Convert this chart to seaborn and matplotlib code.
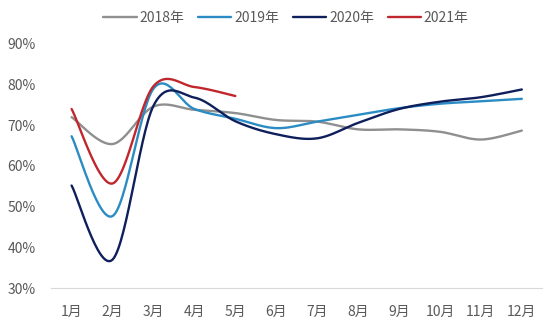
import numpy as np
import pandas as pd
import matplotlib
matplotlib.use("Agg")
import matplotlib.pyplot as plt
import seaborn as sns

months = ["1月", "2月", "3月", "4月", "5月", "6月", "7月", "8月", "9月", "10月", "11月", "12月"]
y2018 = [72.0, 65.4, 74.6, 73.8, 73.0, 71.3, 70.9, 69.0, 69.0, 68.4, 66.5, 68.7]
y2019 = [67.3, 47.7, 79.0, 74.0, 71.6, 69.3, 70.9, 72.6, 74.2, 75.3, 75.9, 76.5]
y2020 = [55.2, 37.0, 74.8, 76.8, 71.0, 67.8, 66.8, 70.6, 74.0, 75.8, 76.9, 78.8]
y2021 = [74.0, 55.7, 79.6, 79.4, 77.2]
series_names = ["2018年", "2019年", "2020年", "2021年"]
colors = ["#8f8f8f", "#2b8cc4", "#0e1f5b", "#c0272d"]
yticks = [30, 40, 50, 60, 70, 80, 90]


def smooth(xs, ys, n=30):
    # Excel-like "smoothed line" rendering through the monthly points
    xs = np.asarray(xs, float)
    ys = np.asarray(ys, float)
    px = np.concatenate([[xs[0]], xs, [xs[-1]]])
    py = np.concatenate([[ys[0]], ys, [ys[-1]]])
    outx, outy = [], []
    for i in range(1, len(px) - 2):
        p0, p1, p2, p3 = (np.array([px[j], py[j]]) for j in (i - 1, i, i + 1, i + 2))
        c1 = p1 + (p2 - p0) / 6.0
        c2 = p2 - (p3 - p1) / 6.0
        t = np.linspace(0, 1, n, endpoint=(i == len(px) - 3))
        b = ((1 - t) ** 3)[:, None] * p1 + (3 * (1 - t) ** 2 * t)[:, None] * c1 \
            + (3 * (1 - t) * t ** 2)[:, None] * c2 + (t ** 3)[:, None] * p2
        outx.extend(b[:, 0])
        outy.extend(b[:, 1])
    return outx, outy


frames = []
for name, vals in zip(series_names, [y2018, y2019, y2020, y2021]):
    sx, sy = smooth(np.arange(1, len(vals) + 1), vals)
    frames.append(pd.DataFrame({"x": sx, "y": sy, "series": name}))
df = pd.concat(frames, ignore_index=True)

sns.set_theme(style="white")
plt.rcParams["font.family"] = ["Noto Sans CJK SC", "DejaVu Sans"]

fig = plt.figure(figsize=(5.5, 3.3), dpi=100)
ax = fig.add_axes([0.093, 0.127, 0.893, 0.74])

sns.lineplot(data=df, x="x", y="y", hue="series", palette=dict(zip(series_names, colors)),
             hue_order=series_names, sort=False, estimator=None, units="series",
             linewidth=1.7, ax=ax, legend=True)

ax.set_xlim(0.5, 12.5)
ax.set_ylim(30, 90)
ax.set_xticks(range(1, 13))
ax.set_xticklabels(months)
ax.set_yticks(yticks)
ax.set_yticklabels([f"{v}%" for v in yticks])
ax.set_xlabel("")
ax.set_ylabel("")
for s in ["top", "right", "left"]:
    ax.spines[s].set_visible(False)
ax.spines["bottom"].set_color("#d9d9d9")
ax.spines["bottom"].set_linewidth(0.8)
ax.tick_params(axis="both", length=0, labelsize=10, colors="#595959")
ax.tick_params(axis="x", pad=12)
ax.tick_params(axis="y", pad=11)

handles, labels = ax.get_legend_handles_labels()
ax.legend_.remove()
fig.legend(handles, labels, loc="center", bbox_to_anchor=(0.52, 0.945), ncol=4, frameon=False,
           fontsize=10, handlelength=2.4, handletextpad=0.2, columnspacing=1.0,
           labelcolor="#595959")

fig.savefig("out.png", dpi=100, facecolor="white")
